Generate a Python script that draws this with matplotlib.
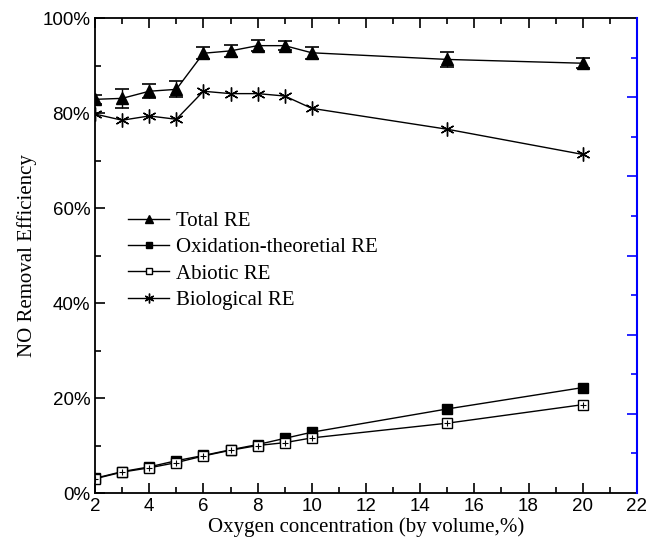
import numpy as np
import matplotlib.pyplot as plt
from matplotlib.ticker import MultipleLocator, FuncFormatter
from matplotlib.lines import Line2D

# Oxygen concentration (% by volume)
oxygen = np.array([2, 3, 4, 5, 6, 7, 8, 9, 10, 15, 20])

# Removal efficiencies (%)
total_re = np.array([82.9, 83.1, 84.6, 85.0, 92.6, 93.1, 94.2, 94.2, 92.7, 91.3, 90.5])
total_err = np.array([1.0, 2.0, 1.5, 1.7, 1.3, 1.2, 1.2, 1.0, 1.3, 1.5, 1.0])
oxid_re = np.array([3.1, 4.5, 5.5, 6.8, 7.9, 9.1, 10.2, 11.5, 12.8, 17.7, 22.2])
abiotic_re = np.array([3.0, 4.4, 5.3, 6.4, 7.8, 9.0, 10.0, 10.6, 11.6, 14.7, 18.6])
bio_re = np.array([79.8, 78.5, 79.4, 78.7, 84.6, 84.1, 84.1, 83.6, 81.0, 76.6, 71.3])

labels = ['Total RE', 'Oxidation-theoretial RE', 'Abiotic RE', 'Biological RE']

serif = ['Liberation Serif', 'DejaVu Serif']
sans = ['Liberation Sans', 'DejaVu Sans']

fig = plt.figure(figsize=(6.6, 5.49), dpi=100)
ax = fig.add_axes([0.144, 0.102, 0.821, 0.865])

asterisk = (6, 2, 0)

ax.errorbar(oxygen, total_re, yerr=total_err, color='black', lw=1, marker='^',
            ms=9, capsize=5, elinewidth=1, capthick=1.2)
ax.plot(oxygen, oxid_re, color='black', lw=1, marker='s', ms=7)
ax.plot(oxygen, abiotic_re, color='black', lw=1, marker='s', ms=7, mfc='white')
ax.plot(oxygen, abiotic_re, ls='none', marker='+', ms=5, mew=0.8, color='black')
ax.plot(oxygen, bio_re, color='black', lw=1, marker=asterisk, ms=10, mew=1)

ax.set_xlim(2, 22)
ax.set_ylim(0, 100)
ax.xaxis.set_major_locator(MultipleLocator(2))
ax.xaxis.set_minor_locator(MultipleLocator(1))
ax.yaxis.set_major_locator(MultipleLocator(20))
ax.yaxis.set_minor_locator(MultipleLocator(10))
ax.yaxis.set_major_formatter(FuncFormatter(lambda v, p: f'{v:.0f}%'))
ax.tick_params(which='both', direction='in', top=True, right=False, width=1.2)
ax.tick_params(which='major', length=7, labelsize=13.5)
ax.tick_params(which='minor', length=4)
for lab in ax.get_xticklabels() + ax.get_yticklabels():
    lab.set_family(sans)
for s in ax.spines.values():
    s.set_linewidth(1.3)
ax.spines['right'].set_visible(False)

# right axis: blue, unlabeled ticks
ax2 = ax.twinx()
ax2.set_ylim(0, 12)
ax2.tick_params(which='both', direction='in', colors='blue', labelright=False, width=1.2)
ax2.tick_params(which='major', length=7)
ax2.tick_params(which='minor', length=4)
ax2.set_yticks([2, 4, 6, 8, 10])
ax2.set_yticks([1, 3, 5, 7, 9, 11], minor=True)
for side in ['left', 'top', 'bottom']:
    ax2.spines[side].set_visible(False)
ax2.spines['right'].set_color('blue')
ax2.spines['right'].set_linewidth(1.5)

ax.set_xlabel('Oxygen concentration (by volume,%)', family=serif, fontsize=15, labelpad=2)
ax.set_ylabel('NO Removal Efficiency', family=serif, fontsize=15, labelpad=4)

handles = [
    Line2D([], [], color='black', lw=1, marker='^', ms=6),
    Line2D([], [], color='black', lw=1, marker='s', ms=5),
    Line2D([], [], color='black', lw=1, marker='s', ms=5, mfc='white'),
    Line2D([], [], color='black', lw=1, marker=asterisk, ms=7, mew=1),
]
ax.legend(handles, labels, loc='upper left', bbox_to_anchor=(0.045, 0.61), frameon=False,
          prop={'family': serif, 'size': 15}, handlelength=2.0, handletextpad=0.3,
          labelspacing=0.32, borderaxespad=0)

fig.savefig('out.png', dpi=100)
